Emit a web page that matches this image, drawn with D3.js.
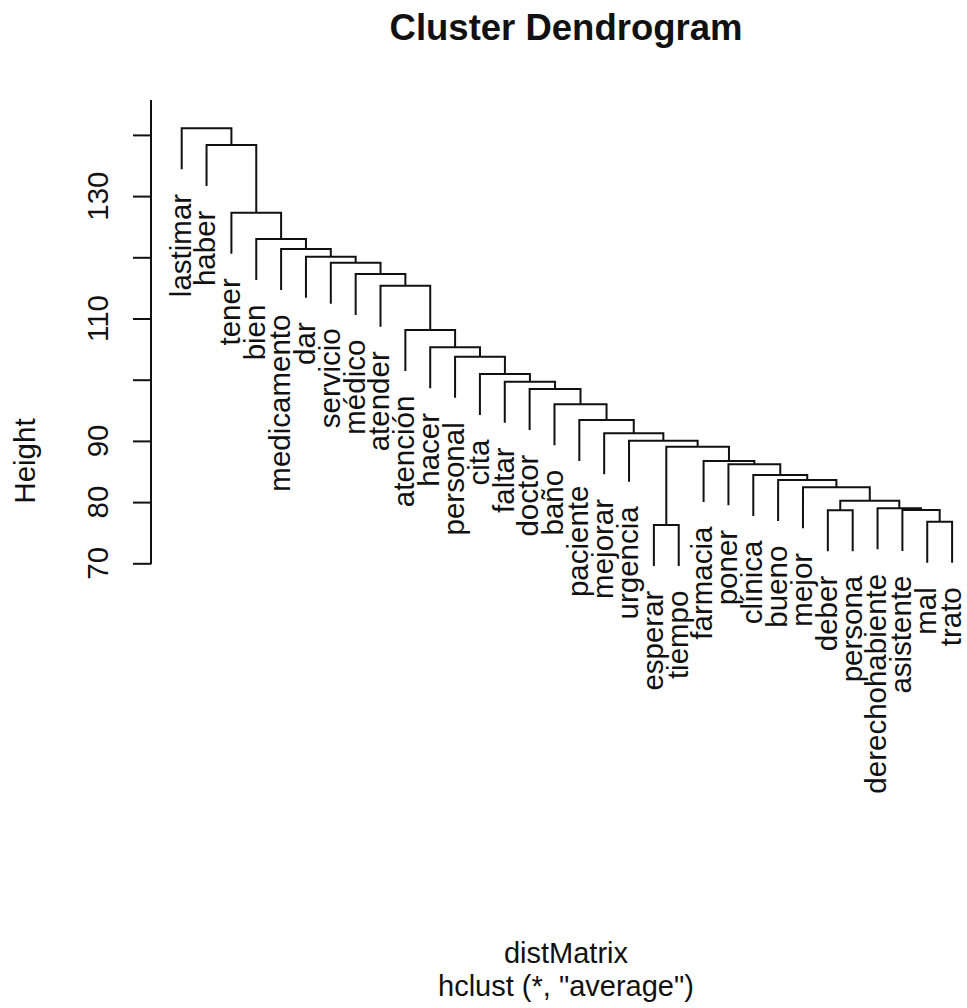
<!DOCTYPE html>
<html>
<head>
<meta charset="utf-8">
<title>Cluster Dendrogram</title>
<script src="https://cdn.jsdelivr.net/npm/d3@7"></script>
<style>
  html, body { margin: 0; padding: 0; background: #fff; }
  svg { display: block; }
  text { font-family: Arial, "Liberation Sans", sans-serif; fill: #111; }
</style>
</head>
<body>
<svg id="chart" width="967" height="1008"></svg>
<script>
// Leaves, in plotting order
const leafLabels = [
  "lastimar", "haber", "tener", "bien", "medicamento", "dar", "servicio",
  "médico", "atender", "atención", "hacer", "personal", "cita", "faltar",
  "doctor", "baño", "paciente", "mejorar", "urgencia", "esperar", "tiempo",
  "farmacia", "poner", "clínica", "bueno", "mejor", "deber", "persona",
  "derechohabiente", "asistente", "mal", "trato"
];

// hclust-style merge table: negative = leaf number (1-based), positive = earlier merge
const mergeLeft  = [-20, -31, -27, -30, -29, 3, -26, -25, -24, -23, -22, 1, -19, -18, -17,
                    -16, -15, -14, -13, -12, -11, -10, -9, -8, -7, -6, -5, -4, -3, -2, -1];
const mergeRight = [-21, -32, -28, 2, 4, 5, 6, 7, 8, 9, 10, 11, 12, 13, 14,
                    15, 16, 17, 18, 19, 20, 21, 22, 23, 24, 25, 26, 27, 28, 29, 30];
const mergeHeight = [76.26, 76.8, 78.68, 78.72, 78.99, 80.23, 82.42, 83.61, 84.43, 86.18,
                     86.72, 89.05, 90.03, 91.24, 93.42, 95.98, 98.48, 99.67, 100.93, 103.76,
                     105.29, 108.12, 115.36, 117.27, 119.12, 120.1, 121.36, 122.99, 127.29,
                     138.35, 141.08];

// Axis ticks and the ones that carry a label
const yTicks = [70, 80, 90, 100, 110, 120, 130, 140];
const yTickLabels = [70, 80, 90, 110, 130];

const titleText = "Cluster Dendrogram";
const xLabelText = "distMatrix";
const subText = "hclust (*, \"average\")";
const yLabelText = "Height";

// how far each leaf hangs below its merge, in height units
const leafHang = 6.7;

const svg = d3.select("#chart");
const ink = "#111";
const lineW = 2;
const labelSize = 29.5;

const plotTop = 100;
const axisX = 151;

// Build the nested tree from the merge table
const built = [];
mergeLeft.forEach((l, i) => {
  const pick = k => (k < 0 ? { name: leafLabels[-k - 1] } : built[k - 1]);
  built.push({ dist: mergeHeight[i], children: [pick(l), pick(mergeRight[i])] });
});
const root = d3.hierarchy(built[built.length - 1]);
d3.cluster().separation(() => 1).size([leafLabels.length, 1])(root);

const n = leafLabels.length;
const x = d3.scaleLinear().domain([0.5, n - 0.5]).range([181.7, 952.1]);
const y = d3.scaleLinear().domain([70, 140]).range([563.3, 134.9]);

// height of each node: merges use their distance, leaves hang below the parent
root.each(d => {
  d.h = d.children ? d.data.dist : d.parent.data.dist - leafHang;
});

// Branches: up from the first child, across, down to the second child
const g = svg.append("g");
g.selectAll("path.branch")
  .data(root.descendants().filter(d => d.children))
  .join("path")
  .attr("class", "branch")
  .attr("fill", "none")
  .attr("stroke", ink)
  .attr("stroke-width", lineW)
  .attr("d", d => {
    const [a, b] = d.children;
    return `M${x(a.x)},${y(a.h)}V${y(d.h)}H${x(b.x)}V${y(b.h)}`;
  });

// Offset between leaf end and its label: width of an "m"
const probe = svg.append("text").attr("font-size", labelSize).text("m");
const mWidth = probe.node().getComputedTextLength();
probe.remove();

g.selectAll("text.leaf")
  .data(root.leaves())
  .join("text")
  .attr("class", "leaf")
  .attr("font-size", labelSize)
  .attr("text-anchor", "end")
  .attr("dy", "0.3em")
  .attr("transform", d => `translate(${x(d.x)},${y(d.h) + mWidth}) rotate(-90)`)
  .text(d => d.data.name);

// Y axis
const axis = svg.append("g")
  .attr("transform", `translate(${axisX},0)`)
  .call(d3.axisLeft(y).tickValues(yTicks).tickSize(18).tickFormat(""));
axis.select(".domain").remove();
axis.selectAll(".tick line").attr("stroke", ink).attr("stroke-width", lineW);
axis.append("line")
  .attr("x1", 0).attr("x2", 0)
  .attr("y1", y(yTicks[0]) + 1).attr("y2", plotTop)
  .attr("stroke", ink).attr("stroke-width", lineW);

svg.append("g").selectAll("text")
  .data(yTickLabels)
  .join("text")
  .attr("font-size", labelSize)
  .attr("text-anchor", "middle")
  .attr("transform", d => `translate(108,${y(d)}) rotate(-90)`)
  .text(d => d);

svg.append("text")
  .attr("font-size", labelSize)
  .attr("text-anchor", "middle")
  .attr("transform", "translate(35,461) rotate(-90)")
  .text(yLabelText);

// Titles
const centerX = 566;
svg.append("text")
  .attr("x", centerX).attr("y", 40)
  .attr("font-size", 36.5)
  .attr("font-weight", "bold")
  .attr("text-anchor", "middle")
  .text(titleText);

svg.append("text")
  .attr("x", centerX).attr("y", 963)
  .attr("font-size", 29)
  .attr("text-anchor", "middle")
  .text(xLabelText);

svg.append("text")
  .attr("x", centerX).attr("y", 996)
  .attr("font-size", 29)
  .attr("text-anchor", "middle")
  .text(subText);
</script>
</body>
</html>
